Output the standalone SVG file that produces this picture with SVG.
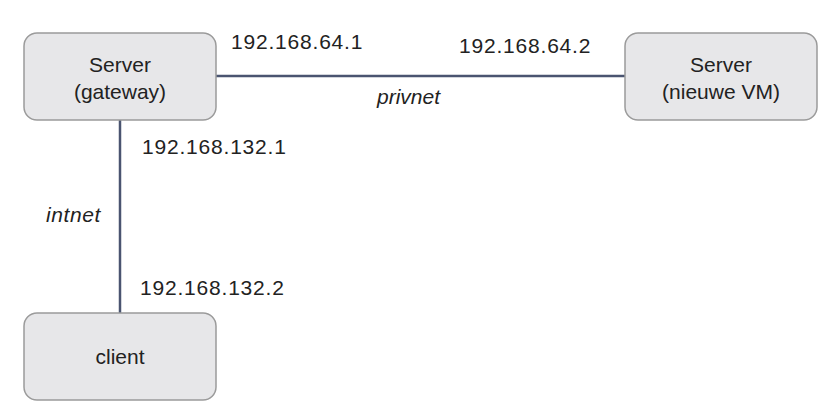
<svg xmlns="http://www.w3.org/2000/svg" width="832" height="420" viewBox="0 0 832 420">
<style>
.node{fill:#e7e7e9;stroke:#9b9b9b;stroke-width:1.5}
.t{font-family:"Liberation Sans",Arial,sans-serif;font-size:21px;fill:#222}
.c{text-anchor:middle}
.ip{letter-spacing:0.8px}
.it{font-style:italic}
.edge{stroke:#4a5470;stroke-width:2.5;fill:none}
</style>
<rect width="832" height="420" fill="#fff"/>
<g id="connectors">
<line class="edge" x1="216" y1="76" x2="625" y2="76"/>
<line class="edge" x1="120" y1="120" x2="120" y2="313"/>
</g>
<g id="gateway">
<rect class="node" x="24" y="33" width="192" height="87" rx="13"/>
<text class="t c" x="120" y="72">Server</text>
<text class="t c" x="120" y="99">(gateway)</text>
</g>
<g id="newvm">
<rect class="node" x="625" y="33" width="192" height="87" rx="13"/>
<text class="t c" x="721" y="72">Server</text>
<text class="t c" x="721" y="99">(nieuwe VM)</text>
</g>
<g id="client">
<rect class="node" x="24" y="313" width="192" height="87" rx="13"/>
<text class="t c" x="120" y="364">client</text>
</g>
<g id="labels">
<text class="t ip" x="231" y="49">192.168.64.1</text>
<text class="t ip" x="459" y="53">192.168.64.2</text>
<text class="t it" x="377" y="104">privnet</text>
<text class="t ip" x="142" y="154">192.168.132.1</text>
<text class="t it" x="46" y="222" style="letter-spacing:0.6px">intnet</text>
<text class="t ip" x="140" y="295">192.168.132.2</text>
</g>
</svg>
